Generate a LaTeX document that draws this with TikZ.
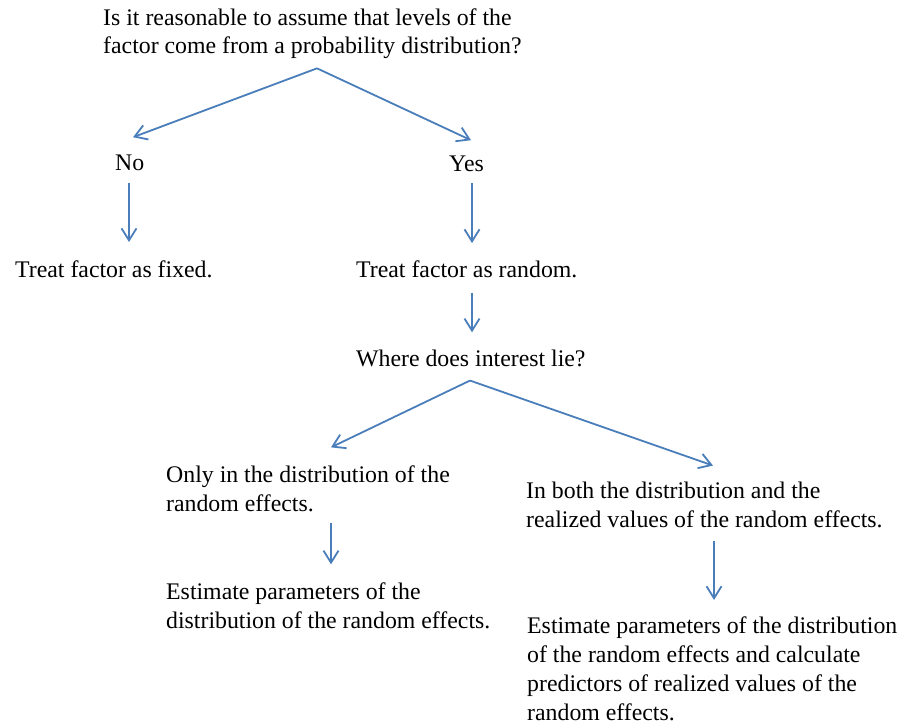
\documentclass[tikz,border=0pt]{standalone}
\usepackage{fontspec}
\setmainfont{Liberation Serif}
\usepackage{tikz}
\usetikzlibrary{arrows.meta}
\definecolor{arrblue}{HTML}{4A7EBB}

\begin{document}
\begin{tikzpicture}[x=1pt,y=-1pt,
        txt/.style={anchor=base west,inner sep=0pt,align=left,
                font=\fontsize{23.8}{28.7}\selectfont},
        arr/.style={draw=arrblue,line width=1.8pt,
                -{Straight Barb[length=12pt,width=15pt]}}]
        \useasboundingbox (0,0) rectangle (907,725);
        % question and first split (base = last line)
        \node[txt] (q) at (103,54) {Is it reasonable to assume that levels of the\\factor come from a probability distribution?};
        \node[txt] (no) at (115,170) {No};
        \node[txt] (yes) at (449,171) {Yes};
        \node[txt] (fixed) at (15,277) {Treat factor as fixed.};
        \node[txt] (random) at (356,277) {Treat factor as random.};
        \node[txt] (where) at (356,366) {Where does interest lie?};
        % second split
        \node[txt] (only) at (166,511) {Only in the distribution of the\\random effects.};
        \node[txt] (both) at (526,527) {In both the distribution and the\\realized values of the random effects.};
        \node[txt] (estdist) at (166,628) {Estimate parameters of the\\distribution of the random effects.};
        \node[txt] (estpred) at (527,720) {Estimate parameters of the distribution\\of the random effects and calculate\\predictors of realized values of the\\random effects.};

        \draw[arr] ([xshift=214pt,yshift=-9pt]q.south west) -- ([xshift=18pt,yshift=17pt]no.north west);
        \draw[arr] ([xshift=214pt,yshift=-9pt]q.south west) -- ([xshift=22pt,yshift=15pt]yes.north west);
        \draw[arr] ([xshift=14pt,yshift=-13pt]no.south west) -- ([xshift=114pt,yshift=18pt]fixed.north west);
        \draw[arr] ([xshift=23pt,yshift=-12pt]yes.south west) -- ([xshift=116pt,yshift=17pt]random.north west);
        \draw[arr] ([xshift=116pt,yshift=-15pt]random.south west) -- ([xshift=116pt,yshift=17pt]where.north west);
        \draw[arr] ([xshift=114pt,yshift=-14pt]where.south west) -- ([xshift=165pt,yshift=18pt]only.north west);
        \draw[arr] ([xshift=114pt,yshift=-14pt]where.south west) -- ([xshift=187pt,yshift=16pt]both.north west);
        \draw[arr] ([xshift=165pt,yshift=-11pt]only.south west) -- ([xshift=165pt,yshift=18pt]estdist.north west);
        \draw[arr] ([xshift=188pt,yshift=-13pt]both.south west) -- ([xshift=187pt,yshift=17pt]estpred.north west);
\end{tikzpicture}
\end{document}
